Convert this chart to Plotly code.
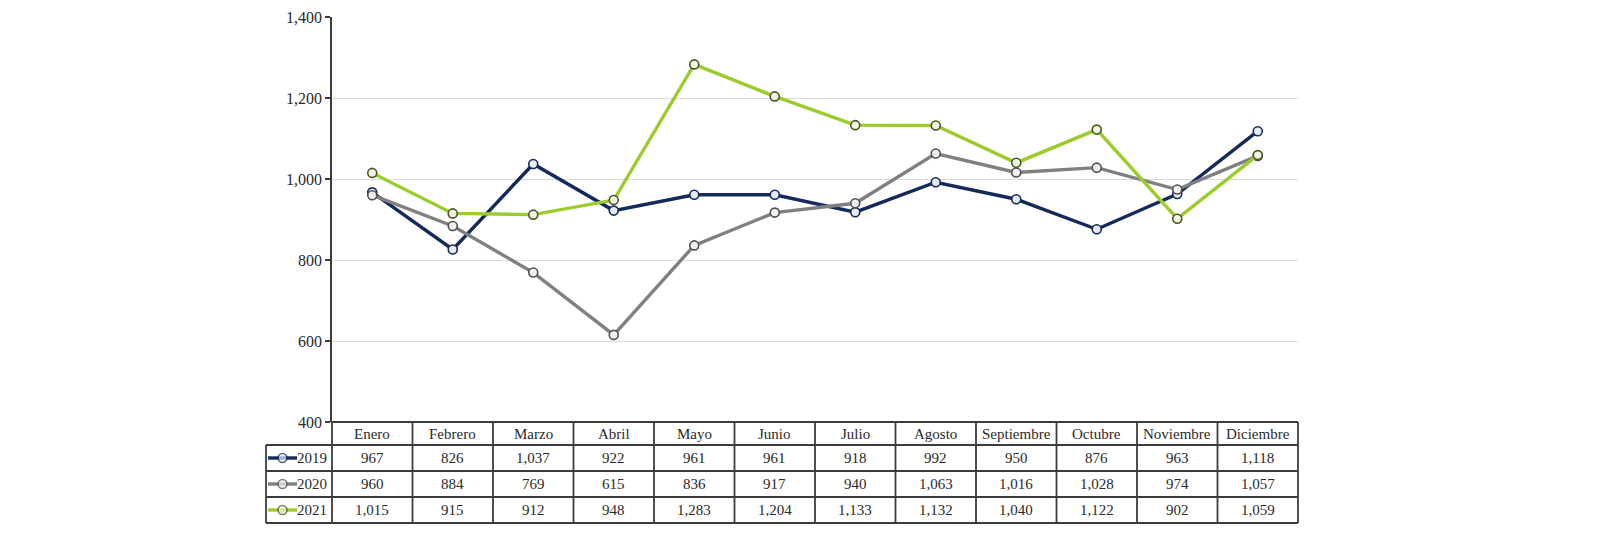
import plotly.graph_objects as go

months = ["Enero", "Febrero", "Marzo", "Abril", "Mayo", "Junio", "Julio",
          "Agosto", "Septiembre", "Octubre", "Noviembre", "Diciembre"]
years = ["2019", "2020", "2021"]
v2019 = [967, 826, 1037, 922, 961, 961, 918, 992, 950, 876, 963, 1118]
v2020 = [960, 884, 769, 615, 836, 917, 940, 1063, 1016, 1028, 974, 1057]
v2021 = [1015, 915, 912, 948, 1283, 1204, 1133, 1132, 1040, 1122, 902, 1059]
series = [v2019, v2020, v2021]
line_colors = ["#15295a", "#808080", "#9ccc2c"]
marker_fill = ["#e4ecf5", "#f0f0f0", "#f0f4e2"]
marker_edge = ["#15295a", "#505050", "#4a5520"]
yticks = [400, 600, 800, 1000, 1200, 1400]

# the page body adds an 8px margin; size the figure so it fits the window
OFF = 8
W, H = 1600 - 2 * OFF, 550 - 2 * OFF
FONT = "Liberation Serif"
TXT = "#2a2a2a"
GRID_LINE = "#3c3c3c"

# table layout (screen pixels)
TL, PL, PR = 266, 332, 1298          # table left, plot left, plot right
ROWS = [422, 445, 471, 497, 523]     # row edges: header, 2019, 2020, 2021
PT = 17                               # plot top
colw = (PR - PL) / len(months)


def px(x):
    return (x - OFF) / W


def py(y):
    return 1 - (y - OFF) / H


fig = go.Figure()
for name, vals, lc, mf, me in zip(years, series, line_colors, marker_fill, marker_edge):
    fig.add_trace(go.Scatter(
        x=months, y=vals, name=name, mode="lines+markers",
        line=dict(color=lc, width=3.4),
        marker=dict(size=9, color=mf, line=dict(color=me, width=1.6)),
        xaxis="x", yaxis="y", showlegend=False,
    ))

# legend icons in the table's first column
for name, lc, mf, me in zip(years, line_colors, marker_fill, marker_edge):
    fig.add_trace(go.Scatter(
        x=[0, 1, 2], y=[name] * 3, mode="lines+markers",
        line=dict(color=lc, width=3.4),
        marker=dict(size=[0, 9, 0], color=mf, line=dict(color=me, width=[0, 1.6, 0])),
        xaxis="x2", yaxis="y2", showlegend=False, hoverinfo="skip",
    ))

shapes = []
annotations = []
# horizontal table lines
shapes.append(dict(type="line", xref="paper", yref="paper",
                   x0=px(PL), x1=px(PR), y0=py(ROWS[0]), y1=py(ROWS[0]),
                   line=dict(color=GRID_LINE, width=1.8)))
for y in ROWS[1:]:
    shapes.append(dict(type="line", xref="paper", yref="paper",
                       x0=px(TL), x1=px(PR), y0=py(y), y1=py(y),
                       line=dict(color=GRID_LINE, width=1.8)))
# vertical table lines
shapes.append(dict(type="line", xref="paper", yref="paper",
                   x0=px(TL), x1=px(TL), y0=py(ROWS[1]), y1=py(ROWS[-1]),
                   line=dict(color=GRID_LINE, width=1.8)))
for c in range(len(months) + 1):
    x = PL + c * colw
    shapes.append(dict(type="line", xref="paper", yref="paper",
                       x0=px(x), x1=px(x), y0=py(ROWS[0]), y1=py(ROWS[-1]),
                       line=dict(color=GRID_LINE, width=1.8)))

# header texts
for c, m in enumerate(months):
    annotations.append(dict(
        x=px(PL + (c + 0.5) * colw), y=py((ROWS[0] + ROWS[1]) / 2),
        xref="paper", yref="paper", text=m, showarrow=False,
        font=dict(family=FONT, size=15, color=TXT), xanchor="center", yanchor="middle"))
# row labels and values
for r, (name, vals) in enumerate(zip(years, series)):
    yc = py((ROWS[r + 1] + ROWS[r + 2]) / 2)
    annotations.append(dict(
        x=px(PL - 3), y=yc, xref="paper", yref="paper", text=name, showarrow=False,
        font=dict(family=FONT, size=15, color=TXT), xanchor="right", yanchor="middle"))
    for c, v in enumerate(vals):
        annotations.append(dict(
            x=px(PL + (c + 0.5) * colw), y=yc, xref="paper", yref="paper",
            text=f"{v:,}", showarrow=False,
            font=dict(family=FONT, size=15, color=TXT), xanchor="center", yanchor="middle"))

fig.update_layout(
    width=W, height=H,
    margin=dict(l=0, r=0, t=0, b=0),
    paper_bgcolor="white", plot_bgcolor="white",
    shapes=shapes, annotations=annotations,
    xaxis=dict(
        domain=[px(PL), px(PR)], type="category", automargin=False,
        range=[-0.5, 11.5], showticklabels=False, ticks="",
        showgrid=False, zeroline=False, showline=False, fixedrange=True,
    ),
    yaxis=dict(
        domain=[py(ROWS[0]), py(PT)], range=[400, 1400], automargin=False,
        tickvals=yticks, ticktext=[f"{t:,}" for t in yticks],
        ticks="outside", ticklen=5, tickcolor=GRID_LINE, tickwidth=1.5,
        showline=True, linecolor=GRID_LINE, linewidth=1.8,
        showgrid=True, gridcolor="#dcdcdc", gridwidth=1,
        zeroline=False, tickfont=dict(family=FONT, size=16, color=TXT),
        fixedrange=True,
    ),
    xaxis2=dict(
        domain=[px(268), px(297)], range=[0, 2], visible=False, fixedrange=True,
        automargin=False,
    ),
    yaxis2=dict(
        domain=[py(ROWS[-1]), py(ROWS[1])], type="category",
        categoryorder="array", categoryarray=years[::-1], automargin=False,
        range=[-0.5, 2.5], visible=False, fixedrange=True,
    ),
)

fig.write_html("out.html")
